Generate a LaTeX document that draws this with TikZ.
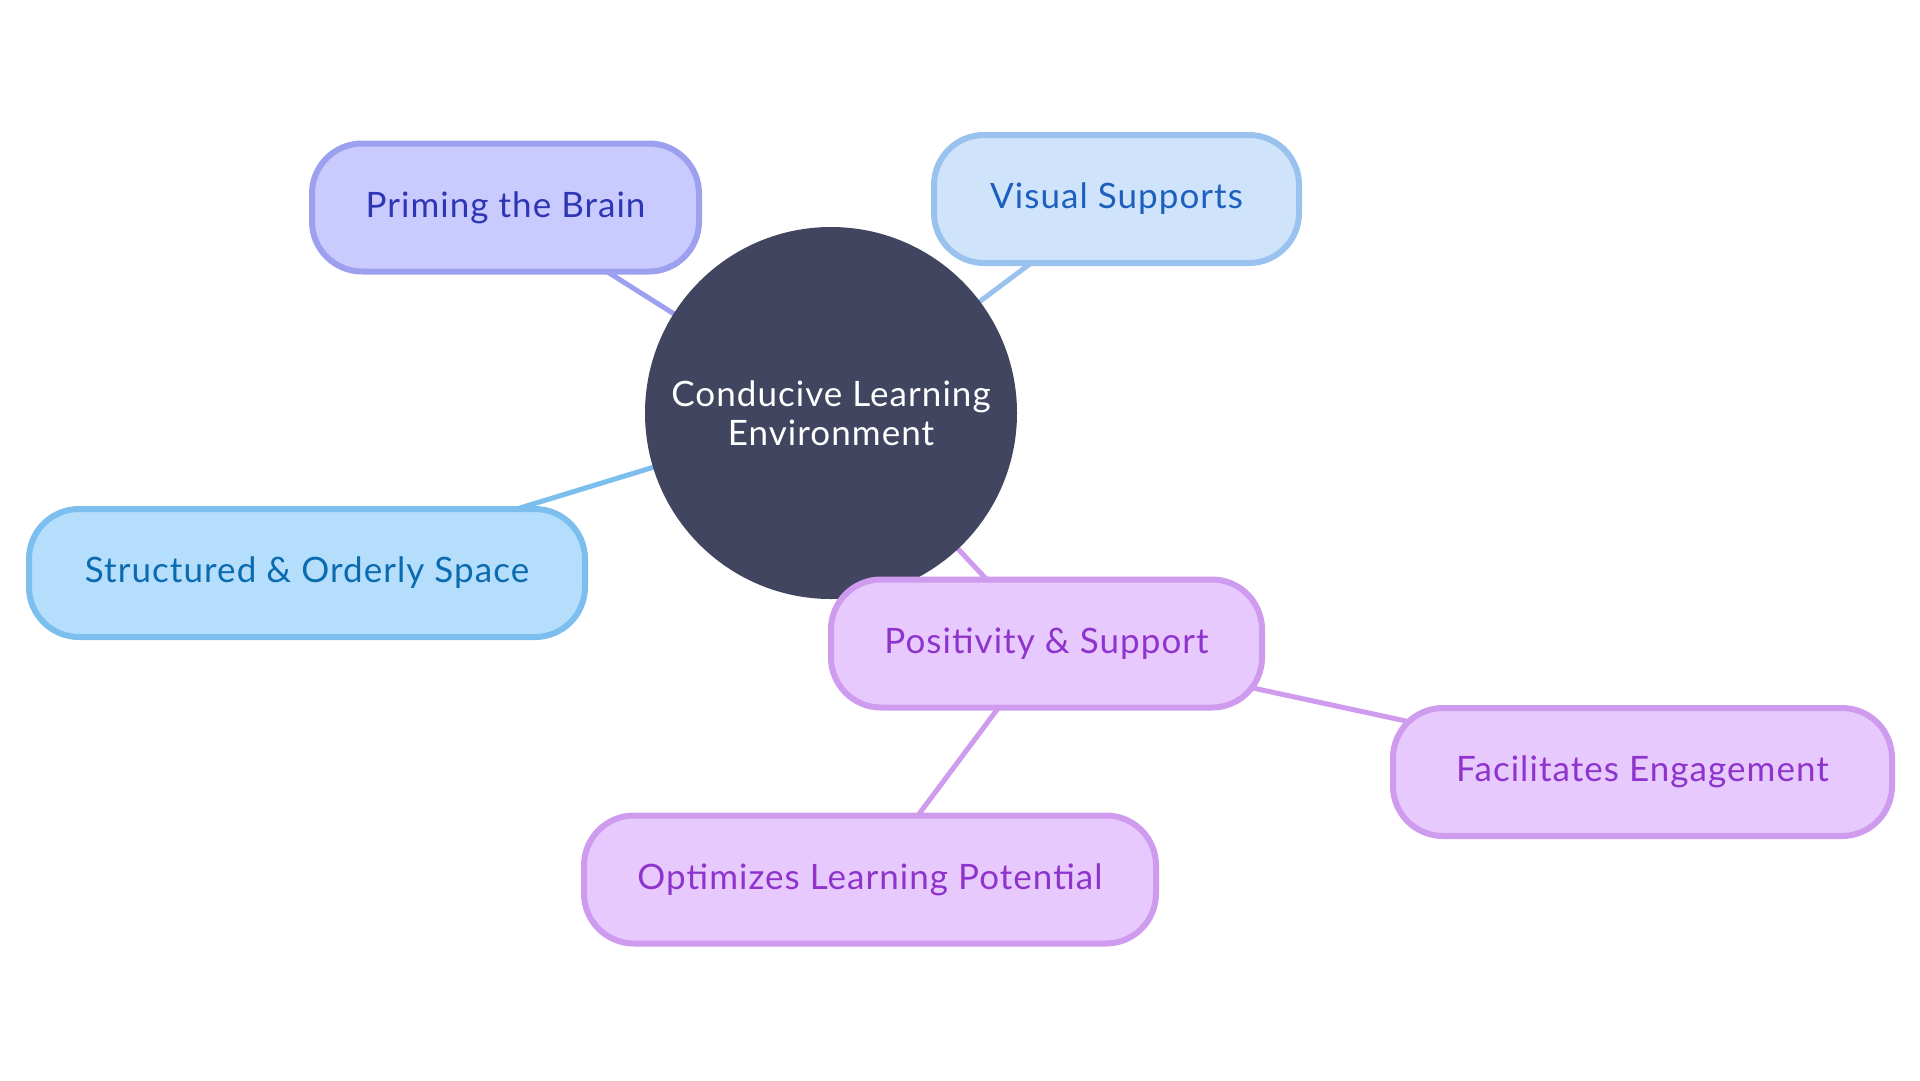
\documentclass[tikz,border=0pt]{standalone}
\usepackage{fontspec}
\setmainfont[LetterSpace=3]{Lato}
\usetikzlibrary{backgrounds}
\pgfdeclarelayer{paper}
\pgfsetlayers{paper,background,main}
\definecolor{hub}{HTML}{414560}
\definecolor{primF}{HTML}{C9CAFD}\definecolor{primD}{HTML}{9CA0EF}\definecolor{primT}{HTML}{2F36B4}
\definecolor{visF}{HTML}{CFE3FB}\definecolor{visD}{HTML}{9AC2EE}\definecolor{visT}{HTML}{1C5FBF}
\definecolor{strF}{HTML}{B5DEFD}\definecolor{strD}{HTML}{7CBFEE}\definecolor{strT}{HTML}{0A6BB0}
\definecolor{purF}{HTML}{E7C9FD}\definecolor{purD}{HTML}{CE9BEE}\definecolor{purT}{HTML}{8E34CC}
\tikzset{
  pill/.style={rounded corners=50pt, line width=6pt, inner sep=0pt, minimum height=128pt,
    font=\fontsize{35}{39}\selectfont},
  primbox/.style={pill, draw=primD, fill=primF, text=primT},
  visbox/.style={pill, draw=visD, fill=visF, text=visT},
  strbox/.style={pill, draw=strD, fill=strF, text=strT},
  purbox/.style={pill, draw=purD, fill=purF, text=purT},
  link/.style={line width=5pt},
}
\begin{document}
\begin{tikzpicture}[x=1pt,y=-1pt]
\useasboundingbox (0,0) rectangle (1920,1080);
\begin{pgfonlayer}{paper}
\fill[white] (0,0) rectangle (1920,1080);
\end{pgfonlayer}
\node[circle, fill=hub, minimum size=372pt, inner sep=0pt, text=white, align=center,
  font=\fontsize{35}{39}\selectfont] (hubn) at (831,413) {Conducive Learning\\Environment};
\node[primbox, minimum width=387pt] (prim) at (505.5,207.5) {Priming the Brain};
\node[visbox, minimum width=365pt] (vis) at (1116.5,199) {Visual Supports};
\node[strbox, minimum width=556pt] (str) at (307,573) {Structured \& Orderly Space};
\node[purbox, minimum width=431pt] (pos) at (1046.5,643.5) {Positivity \& Support};
\node[purbox, minimum width=499pt] (fac) at (1642.5,772) {Facilitates Engagement};
\node[purbox, minimum width=572pt] (opt) at (870,879.5) {Optimizes Learning Potential};
\begin{pgfonlayer}{background}
\draw[link, primD] (hubn.center) -- (prim.center);
\draw[link, visD] (hubn.center) -- (vis.center);
\draw[link, strD] (hubn.center) -- (str.center);
\draw[link, purD] (hubn.center) -- (pos.center);
\draw[link, purD] (pos.center) -- (fac.center);
\draw[link, purD] (pos.center) -- (opt.center);
\end{pgfonlayer}
\end{tikzpicture}
\end{document}
